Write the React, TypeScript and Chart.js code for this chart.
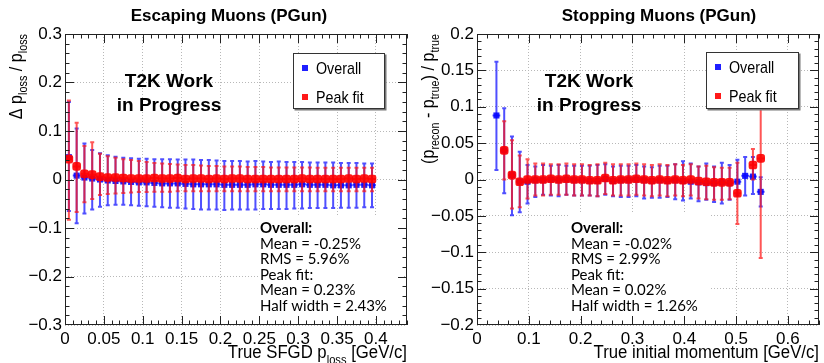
import React, { useEffect, useRef } from 'react';
import { Chart, registerables } from 'chart.js';
Chart.register(...registerables);

// ---------------- Escaping muons (left) ----------------
const escX = [0.005, 0.015, 0.025, 0.035, 0.045, 0.055, 0.065, 0.075, 0.085, 0.095,
  0.105, 0.115, 0.125, 0.135, 0.145, 0.155, 0.165, 0.175, 0.185, 0.195,
  0.205, 0.215, 0.225, 0.235, 0.245, 0.255, 0.265, 0.275, 0.285, 0.295,
  0.305, 0.315, 0.325, 0.335, 0.345, 0.355, 0.365, 0.375, 0.385, 0.395];
const escOverall = [0.046, 0.008, 0.004, 0.002, 0.0, -0.002, -0.003, -0.004, -0.005, -0.006,
  -0.006, -0.007, -0.008, -0.008, -0.008, -0.009, -0.010, -0.010, -0.010, -0.010,
  -0.011, -0.011, -0.011, -0.011, -0.010, -0.010, -0.011, -0.011, -0.011, -0.011,
  -0.010, -0.011, -0.011, -0.011, -0.012, -0.012, -0.012, -0.011, -0.011, -0.012];
const escOverallHi = [0.160, 0.105, 0.074, 0.061, 0.054, 0.050, 0.047, 0.045, 0.044, 0.043,
  0.043, 0.042, 0.042, 0.042, 0.041, 0.041, 0.041, 0.040, 0.040, 0.039,
  0.038, 0.038, 0.038, 0.037, 0.038, 0.037, 0.036, 0.037, 0.036, 0.036,
  0.036, 0.035, 0.035, 0.035, 0.035, 0.034, 0.034, 0.034, 0.033, 0.033];
const escOverallLo = [-0.065, -0.090, -0.070, -0.062, -0.056, -0.053, -0.052, -0.052, -0.053, -0.054,
  -0.055, -0.056, -0.057, -0.058, -0.058, -0.060, -0.061, -0.062, -0.062, -0.062,
  -0.063, -0.062, -0.062, -0.062, -0.062, -0.061, -0.061, -0.061, -0.061, -0.060,
  -0.060, -0.059, -0.059, -0.059, -0.059, -0.058, -0.058, -0.058, -0.057, -0.057];
const escPeak = [0.042, 0.027, 0.012, 0.010, 0.006, 0.004, 0.004, 0.003, 0.002, 0.002,
  0.002, 0.003, 0.002, 0.002, 0.003, 0.001, 0.002, 0.002, 0.001, 0.002,
  0.001, 0.002, 0.002, 0.001, 0.001, 0.001, 0.001, 0.001, 0.001, 0.001,
  0.002, 0.001, 0.001, 0.001, 0.001, 0.001, 0.002, 0.001, 0.002, 0.001];
const escPeakHi = [0.163, 0.117, 0.069, 0.077, 0.053, 0.048, 0.045, 0.042, 0.040, 0.038,
  0.036, 0.034, 0.033, 0.032, 0.031, 0.030, 0.030, 0.029, 0.028, 0.028,
  0.027, 0.027, 0.027, 0.026, 0.026, 0.026, 0.025, 0.025, 0.025, 0.025,
  0.025, 0.025, 0.024, 0.024, 0.024, 0.024, 0.024, 0.024, 0.024, 0.024];
const escPeakLo = [-0.083, -0.067, -0.047, -0.040, -0.032, -0.030, -0.029, -0.028, -0.027, -0.026,
  -0.026, -0.025, -0.025, -0.025, -0.024, -0.024, -0.024, -0.024, -0.024, -0.024,
  -0.024, -0.024, -0.024, -0.024, -0.024, -0.024, -0.024, -0.024, -0.024, -0.024,
  -0.024, -0.024, -0.024, -0.024, -0.024, -0.024, -0.024, -0.024, -0.024, -0.024];
const escStats = ['Overall:', 'Mean = -0.25%', 'RMS = 5.96%', 'Peak fit:', 'Mean = 0.23%', 'Half width = 2.43%'];

// ---------------- Stopping muons (right) ----------------
const stopX = [0.0375, 0.0525, 0.0675, 0.0825, 0.0975, 0.1125, 0.1275, 0.1425, 0.1575, 0.1725,
  0.1875, 0.2025, 0.2175, 0.2325, 0.2475, 0.2625, 0.2775, 0.2925, 0.3075, 0.3225,
  0.3375, 0.3525, 0.3675, 0.3825, 0.3975, 0.4125, 0.4275, 0.4425, 0.4575, 0.4725,
  0.4875, 0.5025, 0.5175, 0.5325, 0.5475];
const stopOverall = [0.088, 0.040, 0.006, -0.003, -0.003, -0.001, -0.001, 0.000, -0.001, 0.000,
  -0.001, -0.001, -0.002, -0.002, 0.001, -0.002, -0.001, -0.001, 0.000, -0.001,
  -0.002, -0.001, -0.002, -0.001, -0.002, -0.003, -0.004, -0.005, -0.005, -0.004,
  -0.005, -0.003, 0.005, 0.004, -0.017];
const stopOverallHi = [0.162, 0.098, 0.059, 0.038, 0.020, 0.018, 0.020, 0.019, 0.020, 0.019,
  0.019, 0.019, 0.019, 0.020, 0.021, 0.018, 0.019, 0.019, 0.020, 0.018,
  0.017, 0.019, 0.019, 0.021, 0.025, 0.022, 0.018, 0.022, 0.018, 0.023,
  0.020, 0.027, 0.031, 0.031, 0.003];
const stopOverallLo = [0.013, -0.019, -0.049, -0.045, -0.033, -0.024, -0.021, -0.022, -0.023, -0.021,
  -0.022, -0.022, -0.022, -0.023, -0.021, -0.023, -0.024, -0.024, -0.023, -0.026,
  -0.025, -0.025, -0.024, -0.027, -0.029, -0.026, -0.030, -0.028, -0.031, -0.033,
  -0.028, -0.022, -0.022, -0.020, -0.037];
const stopPeak = [null, 0.040, 0.006, -0.003, 0.000, 0.000, 0.000, 0.001, 0.000, 0.001,
  0.000, 0.000, -0.001, -0.001, 0.002, -0.001, 0.000, 0.000, 0.001, 0.000,
  -0.001, 0.000, -0.001, 0.000, -0.001, 0.000, -0.002, -0.003, -0.004, -0.004,
  -0.004, -0.019, null, 0.020, 0.029];
const stopPeakHi = [null, 0.080, 0.054, 0.033, 0.028, 0.022, 0.022, 0.021, 0.021, 0.022,
  0.021, 0.021, 0.020, 0.021, 0.023, 0.021, 0.021, 0.021, 0.022, 0.021,
  0.020, 0.021, 0.020, 0.021, 0.020, 0.021, 0.018, 0.019, 0.017, 0.016,
  0.016, 0.023, null, 0.042, 0.160];
const stopPeakLo = [null, 0.000, -0.040, -0.038, -0.026, -0.022, -0.022, -0.021, -0.021, -0.021,
  -0.022, -0.022, -0.022, -0.023, -0.020, -0.022, -0.022, -0.022, -0.021, -0.022,
  -0.023, -0.022, -0.023, -0.022, -0.023, -0.022, -0.026, -0.027, -0.028, -0.028,
  -0.027, -0.061, null, 0.000, -0.108];
const stopStats = ['Overall:', 'Mean = -0.02%', 'RMS = 2.99%', 'Peak fit:', 'Mean = 0.02%', 'Half width = 1.26%'];

const legendLabels = ['Overall', 'Peak fit'];

const HELV = "'Liberation Sans', Arial, Helvetica, sans-serif";
const LATO = "Lato, 'Liberation Sans', sans-serif";

type Part = { t: string; sub?: boolean };

function richWidth(ctx: CanvasRenderingContext2D, parts: Part[], size: number, subSize: number) {
  let w = 0;
  for (const p of parts) {
    ctx.font = `${p.sub ? subSize : size}px ${HELV}`;
    w += ctx.measureText(p.t).width;
  }
  return w;
}

function drawRich(ctx: CanvasRenderingContext2D, parts: Part[], x: number, y: number, opts: { size: number; subSize: number; subDy: number; sx: number; align: 'left' | 'right'; rotate?: boolean }) {
  ctx.save();
  ctx.translate(x, y);
  if (opts.rotate) ctx.rotate(-Math.PI / 2);
  ctx.scale(opts.sx, 1);
  const w = richWidth(ctx, parts, opts.size, opts.subSize);
  let cx = opts.align === 'right' ? -w : 0;
  ctx.fillStyle = '#000';
  ctx.textBaseline = 'alphabetic';
  ctx.textAlign = 'left';
  for (const p of parts) {
    ctx.font = `${p.sub ? opts.subSize : opts.size}px ${HELV}`;
    ctx.fillText(p.t, cx, p.sub ? opts.subDy : 0);
    cx += ctx.measureText(p.t).width;
  }
  ctx.restore();
}

function drawText(ctx: CanvasRenderingContext2D, s: string, x: number, y: number, font: string, align: CanvasTextAlign, sx = 1, baseline: CanvasTextBaseline = 'alphabetic') {
  ctx.save();
  ctx.translate(x, y);
  ctx.scale(sx, 1);
  ctx.font = font;
  ctx.fillStyle = '#000';
  ctx.textAlign = align;
  ctx.textBaseline = baseline;
  ctx.fillText(s, 0, 0);
  ctx.restore();
}

interface PanelCfg {
  xs: number[];
  overall: (number | null)[]; overallHi: (number | null)[]; overallLo: (number | null)[];
  peak: (number | null)[]; peakHi: (number | null)[]; peakLo: (number | null)[];
  halfW: number;
  xMax: number; xStep: number; xMinor: number;
  yMin: number; yMax: number; yStep: number; yMinor: number;
  title: string; titleX: number;
  yTitle: Part[]; xTitle: Part[];
  legend: { x: number; y: number; w: number; h: number };
  t2kX: number;
  stats: string[]; statsBox: { x: number; y: number; w: number; h: number };
  rightPad: number;
}

const BLUE_BAR = 'rgba(20,20,255,0.75)';
const RED_BAR = 'rgba(255,20,20,0.72)';
const BLUE_MK = 'rgba(0,0,255,0.88)';
const RED_MK = 'rgba(255,0,0,0.9)';

const errorBarPlugin = {
  id: 'errbars',
  beforeDatasetDraw(chart: any, args: any) {
    const ds = chart.data.datasets[args.index];
    const xs = chart.scales.x, ys = chart.scales.y;
    const ctx: CanvasRenderingContext2D = chart.ctx;
    const a = chart.chartArea;
    ctx.save();
    ctx.beginPath();
    ctx.rect(a.left, a.top, a.right - a.left, a.bottom - a.top);
    ctx.clip();
    ctx.strokeStyle = ds.barColor;
    ctx.lineWidth = 2;
    ds.data.forEach((p: any, i: number) => {
      if (p.y == null) return;
      const lo = ds.errLo[i], hi = ds.errHi[i];
      const px = xs.getPixelForValue(p.x), py = ys.getPixelForValue(p.y);
      const x0 = xs.getPixelForValue(p.x - ds.halfW), x1 = xs.getPixelForValue(p.x + ds.halfW);
      const yl = ys.getPixelForValue(lo), yh = ys.getPixelForValue(hi);
      ctx.beginPath();
      ctx.moveTo(px, yl); ctx.lineTo(px, yh);
      ctx.moveTo(px - 2, yl); ctx.lineTo(px + 2, yl);
      ctx.moveTo(px - 2, yh); ctx.lineTo(px + 2, yh);
      ctx.moveTo(x0, py); ctx.lineTo(x1, py);
      ctx.stroke();
    });
    ctx.restore();
  },
};

function makeRootPlugin(cfg: PanelCfg) {
  return {
    id: 'rootdeco',
    beforeDatasetsDraw(chart: any) {
      const ctx: CanvasRenderingContext2D = chart.ctx;
      const b = cfg.statsBox;
      ctx.save();
      ctx.fillStyle = '#fff';
      ctx.fillRect(b.x, b.y, b.w, b.h);
      ctx.restore();
      const base = [233, 248.5, 264, 279.5, 295, 310.5];
      cfg.stats.forEach((s, i) => {
        const bold = i === 0;
        drawText(ctx, s, b.x + 2, base[i], `${bold ? 'bold ' : ''}15px ${LATO}`, 'left', 1);
      });
    },
    afterDatasetsDraw(chart: any) {
      const ctx: CanvasRenderingContext2D = chart.ctx;
      // T2K label
      drawText(ctx, 'T2K Work', cfg.t2kX, 87, `bold 19px ${HELV}`, 'center');
      drawText(ctx, 'in Progress', cfg.t2kX, 111, `bold 19px ${HELV}`, 'center');
      // legend
      const L = cfg.legend;
      ctx.save();
      ctx.fillStyle = '#777';
      ctx.fillRect(L.x + 1.5, L.y + 1.5, L.w, L.h);
      ctx.fillStyle = '#fff';
      ctx.fillRect(L.x, L.y, L.w, L.h);
      ctx.strokeStyle = '#333';
      ctx.lineWidth = 1;
      ctx.strokeRect(L.x + 0.5, L.y + 0.5, L.w - 1, L.h - 1);
      const rowY = [L.y + 15, L.y + 44];
      const cols = [BLUE_MK, RED_MK];
      for (let i = 0; i < 2; i++) {
        ctx.fillStyle = cols[i];
        ctx.fillRect(L.x + 9, rowY[i] - 3, 6, 6);
        drawText(ctx, legendLabels[i], L.x + 23, rowY[i] + 6, `17px ${HELV}`, 'left', 0.84);
      }
      ctx.restore();
    },
    afterDraw(chart: any) {
      const ctx: CanvasRenderingContext2D = chart.ctx;
      const a = chart.chartArea;
      const xs = chart.scales.x, ys = chart.scales.y;
      ctx.save();
      ctx.strokeStyle = '#222';
      ctx.lineWidth = 1;
      ctx.strokeRect(Math.round(a.left) + 0.5, Math.round(a.top) + 0.5, Math.round(a.right - a.left) - 1, Math.round(a.bottom - a.top) - 1);
      ctx.beginPath();
      const nx = Math.round(cfg.xMax / cfg.xMinor);
      const rx = Math.round(cfg.xStep / cfg.xMinor);
      for (let k = 1; k <= nx; k++) {
        const v = k * cfg.xMinor;
        if (v > cfg.xMax + 1e-9) break;
        const px = Math.round(xs.getPixelForValue(v)) + 0.5;
        const len = k % rx === 0 ? 9 : 4.5;
        ctx.moveTo(px, a.bottom); ctx.lineTo(px, a.bottom - len);
        ctx.moveTo(px, a.top); ctx.lineTo(px, a.top + len);
      }
      const ny = Math.round((cfg.yMax - cfg.yMin) / cfg.yMinor);
      const ry = Math.round(cfg.yStep / cfg.yMinor);
      for (let k = 1; k < ny; k++) {
        const v = cfg.yMin + k * cfg.yMinor;
        const py = Math.round(ys.getPixelForValue(v)) + 0.5;
        const len = k % ry === 0 ? 9 : 4.5;
        ctx.moveTo(a.left, py); ctx.lineTo(a.left + len, py);
        ctx.moveTo(a.right, py); ctx.lineTo(a.right - len, py);
      }
      ctx.stroke();
      ctx.restore();
      // titles
      drawText(ctx, cfg.title, cfg.titleX, 21, `bold 17px ${HELV}`, 'center');
      drawRich(ctx, cfg.yTitle, 22, a.top, { size: 18, subSize: 12, subDy: 5, sx: 0.9, align: 'right', rotate: true });
      drawRich(ctx, cfg.xTitle, a.right, 358, { size: 18, subSize: 12, subDy: 6, sx: 0.93, align: 'right' });
    },
  };
}

function fmt(v: number) {
  const r = Math.round(v * 1000) / 1000;
  if (Math.abs(r) < 1e-9) return '0';
  const s = String(Math.abs(r));
  return r < 0 ? '\u2212' + s : s;
}

function buildConfig(cfg: PanelCfg): any {
  const tickFont = { family: HELV, size: 17 };
  const mk = (ys: (number | null)[]) => cfg.xs.map((x, i) => ({ x, y: ys[i] }));
  return {
    type: 'scatter',
    data: {
      datasets: [
        {
          label: legendLabels[1], data: mk(cfg.peak), order: 0,
          pointStyle: 'rectRounded', pointRadius: 5, pointHoverRadius: 5,
          backgroundColor: RED_MK, borderWidth: 0, showLine: false,
          errLo: cfg.peakLo, errHi: cfg.peakHi, halfW: cfg.halfW, barColor: RED_BAR,
        },
        {
          label: legendLabels[0], data: mk(cfg.overall), order: 1,
          pointStyle: 'rect', pointRadius: 4.3, pointHoverRadius: 4.3,
          backgroundColor: BLUE_MK, borderWidth: 0, showLine: false,
          errLo: cfg.overallLo, errHi: cfg.overallHi, halfW: cfg.halfW, barColor: BLUE_BAR,
        },
      ],
    },
    options: {
      animation: false,
      responsive: false,
      events: [],
      layout: { padding: { top: 34, right: cfg.rightPad, left: 0, bottom: 0 } },
      plugins: { legend: { display: false }, tooltip: { enabled: false }, title: { display: false } },
      scales: {
        x: {
          type: 'linear', min: 0, max: cfg.xMax,
          afterFit: (s: any) => { s.height = 38; },
          ticks: { stepSize: cfg.xStep, includeBounds: false, padding: 4, font: tickFont, color: '#000', autoSkip: false, maxRotation: 0, callback: (v: number) => fmt(v) },
          grid: { color: '#b8b8b8', drawTicks: false, lineWidth: 1 },
          border: { display: false, dash: [1, 2] },
        },
        y: {
          type: 'linear', min: cfg.yMin, max: cfg.yMax,
          afterFit: (s: any) => { s.width = 65; },
          ticks: { stepSize: cfg.yStep, padding: 3, font: tickFont, color: '#000', autoSkip: false, callback: (v: number) => fmt(v) },
          grid: { color: '#b8b8b8', drawTicks: false, lineWidth: 1 },
          border: { display: false, dash: [1, 2] },
        },
      },
    },
    plugins: [errorBarPlugin, makeRootPlugin(cfg)],
  };
}

const leftCfg: PanelCfg = {
  xs: escX, overall: escOverall, overallHi: escOverallHi, overallLo: escOverallLo,
  peak: escPeak, peakHi: escPeakHi, peakLo: escPeakLo, halfW: 0.005,
  xMax: 0.44, xStep: 0.05, xMinor: 0.01,
  yMin: -0.3, yMax: 0.3, yStep: 0.1, yMinor: 0.02,
  title: 'Escaping Muons (PGun)', titleX: 229,
  yTitle: [{ t: '\u0394 p' }, { t: 'loss', sub: true }, { t: ' / p' }, { t: 'loss', sub: true }],
  xTitle: [{ t: 'True SFGD p' }, { t: 'loss', sub: true }, { t: ' [GeV/c]' }],
  legend: { x: 293, y: 53, w: 92, h: 56 },
  t2kX: 169,
  stats: escStats, statsBox: { x: 258, y: 217, w: 144, h: 101 },
  rightPad: 4,
};

const rightCfg: PanelCfg = {
  xs: stopX, overall: stopOverall, overallHi: stopOverallHi, overallLo: stopOverallLo,
  peak: stopPeak, peakHi: stopPeakHi, peakLo: stopPeakLo, halfW: 0.0075,
  xMax: 0.66, xStep: 0.1, xMinor: 0.02,
  yMin: -0.2, yMax: 0.2, yStep: 0.05, yMinor: 0.01,
  title: 'Stopping Muons (PGun)', titleX: 247,
  yTitle: [{ t: '(p' }, { t: 'recon', sub: true }, { t: ' - p' }, { t: 'true', sub: true }, { t: ') / p' }, { t: 'true', sub: true }],
  xTitle: [{ t: 'True initial momentum [GeV/c]' }],
  legend: { x: 294, y: 52, w: 93, h: 57 },
  t2kX: 177,
  stats: stopStats, statsBox: { x: 157, y: 213, w: 141, h: 105 },
  rightPad: 3,
};

function Panel({ cfg }: { cfg: PanelCfg }) {
  const ref = useRef<HTMLCanvasElement | null>(null);
  useEffect(() => {
    if (!ref.current) return;
    const chart = new Chart(ref.current, buildConfig(cfg));
    return () => chart.destroy();
  }, [cfg]);
  return <canvas ref={ref} width={412} height={363} style={{ width: 412, height: 363, display: 'block' }} />;
}

export default function App() {
  return (
    <div style={{ position: 'absolute', left: 0, top: 0, width: 824, height: 363, display: 'flex', background: '#fff' }}>
      <Panel cfg={leftCfg} />
      <Panel cfg={rightCfg} />
    </div>
  );
}
